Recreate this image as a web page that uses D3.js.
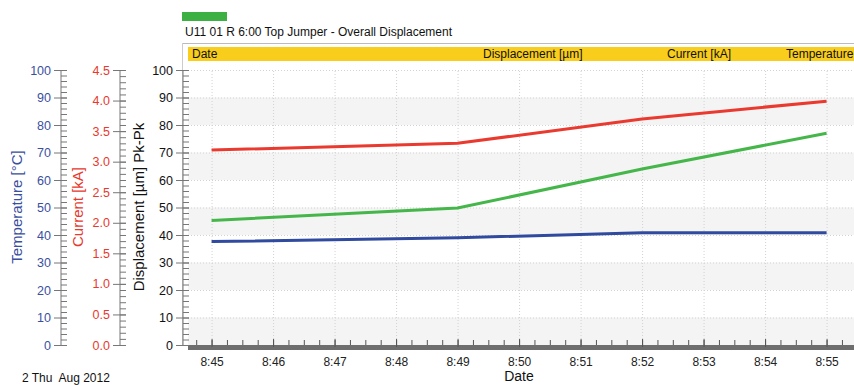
<!DOCTYPE html>
<html>
<head>
<meta charset="utf-8">
<script src="https://cdn.jsdelivr.net/npm/d3@7"></script>
<style>
  body { margin: 0; background: #fff; }
  svg { display: block; font-family: "Liberation Sans", Arial, sans-serif; }
</style>
</head>
<body>
<div id="chart"></div>
<script>
(function() {
  var width = 854, height = 385;

  // data
  var times = ["8:45", "8:49", "8:52", "8:55"];
  var displacement = [45.3, 49.8, 64.0, 77.0];   // µm Pk-Pk (green)
  var current = [3.19, 3.30, 3.70, 3.99];        // kA (red)
  var temperature = [37.6, 39.0, 40.8, 40.8];    // °C (blue)

  var headerLabels = ["Date", "Displacement [µm]", "Current [kA]", "Temperature"];
  var headerX = [192, 483, 667, 786];

  var parseTime = d3.timeParse("%H:%M");
  var dates = times.map(parseTime);

  var svg = d3.select("#chart")
    .append("svg")
    .attr("width", width)
    .attr("height", height);

  var plotLeft = 188, plotTop = 70, plotBottom = 345;

  var xPositionScale = d3.scaleTime()
    .domain([new Date(1900, 0, 1, 8, 44, 37), new Date(1900, 0, 1, 8, 55, 37)])
    .range([plotLeft, plotLeft + 11 * 61.5]);

  var dispScale = d3.scaleLinear().domain([0, 100]).range([plotBottom, plotTop]);
  var currScale = d3.scaleLinear().domain([0, 4.5]).range([plotBottom, plotTop]);
  var tempScale = d3.scaleLinear().domain([0, 100]).range([plotBottom, plotTop]);

  // legend swatch + title
  svg.append("rect")
    .attr("x", 182).attr("y", 12).attr("width", 45).attr("height", 9)
    .attr("fill", "#3cb043");
  svg.append("text")
    .attr("x", 185).attr("y", 36)
    .attr("font-size", 12).attr("fill", "#111")
    .text("U11 01 R 6:00 Top Jumper - Overall Displacement");

  // panel frame
  svg.append("line")
    .attr("x1", 182).attr("x2", width).attr("y1", 43.5).attr("y2", 43.5)
    .attr("stroke", "#bbb");
  svg.append("line")
    .attr("x1", 182.5).attr("x2", 182.5).attr("y1", 43).attr("y2", plotBottom)
    .attr("stroke", "#ccc");

  // yellow header bar
  svg.append("rect")
    .attr("x", plotLeft).attr("y", 47).attr("width", width - plotLeft).attr("height", 14)
    .attr("fill", "#f9cd1c");
  svg.selectAll(".hdr")
    .data(headerLabels)
    .enter().append("text")
    .attr("class", "hdr")
    .attr("x", function(d, i) { return headerX[i]; })
    .attr("y", 58)
    .attr("font-size", 12)
    .attr("fill", "#111")
    .text(function(d) { return d; });

  // alternating bands
  var bands = d3.range(0, 100, 20);
  svg.selectAll(".band")
    .data(bands)
    .enter().append("rect")
    .attr("class", "band")
    .attr("x", plotLeft)
    .attr("width", width - plotLeft)
    .attr("y", function(d) { return dispScale(d + 10); })
    .attr("height", function(d) { return dispScale(d) - dispScale(d + 10); })
    .attr("fill", "#f4f4f4");

  // grid
  var xGrid = d3.axisBottom(xPositionScale)
    .ticks(d3.timeMinute.every(1))
    .tickSize(-(plotBottom - plotTop))
    .tickFormat("");
  svg.append("g")
    .attr("class", "grid")
    .attr("transform", "translate(0," + plotBottom + ")")
    .call(xGrid);
  var yGrid = d3.axisLeft(dispScale)
    .tickValues(d3.range(10, 101, 10))
    .tickSize(-(width - plotLeft))
    .tickFormat("");
  svg.append("g")
    .attr("class", "grid")
    .attr("transform", "translate(" + plotLeft + ",0)")
    .call(yGrid);
  svg.selectAll(".grid .domain").remove();
  svg.selectAll(".grid line")
    .attr("stroke", "#d2d2d2")
    .attr("stroke-dasharray", "1,2");

  // lines
  var series = [
    { values: temperature, scale: tempScale, color: "#2f4a9e" },
    { values: displacement, scale: dispScale, color: "#45b649" },
    { values: current, scale: currScale, color: "#ea3a2f" }
  ];
  series.forEach(function(s) {
    var line = d3.line()
      .x(function(d, i) { return xPositionScale(dates[i]); })
      .y(function(d) { return s.scale(d); });
    svg.append("path")
      .datum(s.values)
      .attr("d", line)
      .attr("fill", "none")
      .attr("stroke", s.color)
      .attr("stroke-width", 3);
  });

  // x axis: thick bar + ticks
  svg.append("rect")
    .attr("x", plotLeft).attr("y", plotBottom).attr("width", width - plotLeft).attr("height", 5)
    .attr("fill", "#6e6e6e");
  var minor = d3.axisTop(xPositionScale)
    .ticks(d3.timeSecond.every(15))
    .tickSize(5)
    .tickFormat("");
  svg.append("g")
    .attr("class", "xminor")
    .attr("transform", "translate(0," + plotBottom + ")")
    .call(minor);
  var xAxis = d3.axisTop(xPositionScale)
    .ticks(d3.timeMinute.every(1))
    .tickSize(8)
    .tickFormat("");
  svg.append("g")
    .attr("class", "xmajor")
    .attr("transform", "translate(0," + (plotBottom + 2) + ")")
    .call(xAxis);
  svg.selectAll(".xminor .domain, .xmajor .domain").remove();
  svg.selectAll(".xminor line, .xmajor line").attr("stroke", "#555");

  var xLabels = d3.axisBottom(xPositionScale)
    .ticks(d3.timeMinute.every(1))
    .tickSize(0)
    .tickPadding(0)
    .tickFormat(d3.timeFormat("%-H:%M"));
  svg.append("g")
    .attr("class", "xlabels")
    .attr("transform", "translate(0,357)")
    .call(xLabels);
  svg.selectAll(".xlabels .domain").remove();
  svg.selectAll(".xlabels text")
    .attr("font-size", 12)
    .attr("font-family", "Liberation Sans, Arial, sans-serif")
    .attr("fill", "#222");

  svg.append("text")
    .attr("x", 519).attr("y", 381)
    .attr("text-anchor", "middle")
    .attr("font-size", 14).attr("fill", "#111")
    .text("Date");

  svg.append("text")
    .attr("x", 22).attr("y", 382)
    .attr("font-size", 12).attr("fill", "#111")
    .style("white-space", "pre")
    .text("2 Thu  Aug 2012");

  // left rulers
  function ruler(x, scale, step, minorStep, fmt, color) {
    var g = svg.append("g").attr("transform", "translate(" + x + ",0)");
    var lo = scale.domain()[0], hi = scale.domain()[1];
    g.append("g")
      .attr("class", "rminor")
      .call(d3.axisRight(scale)
        .tickValues(d3.range(lo, hi + minorStep / 2, minorStep))
        .tickSize(6)
        .tickFormat(""));
    g.append("g")
      .attr("class", "rmajor")
      .call(d3.axisLeft(scale)
        .tickValues(d3.range(lo, hi + step / 2, step))
        .tickSize(7)
        .tickPadding(3)
        .tickFormat(fmt));
    g.selectAll(".rmajor .tick line").attr("x2", -7).attr("x1", 6);
    g.selectAll(".domain").remove();
    g.append("line")
      .attr("x1", 0).attr("x2", 0)
      .attr("y1", scale.range()[1]).attr("y2", scale.range()[0])
      .attr("stroke", "#777");
    g.selectAll("line").attr("stroke", "#777");
    g.selectAll("text")
      .attr("font-size", 12.5)
      .attr("font-family", "Liberation Sans, Arial, sans-serif")
      .attr("fill", color);
  }
  ruler(61, tempScale, 10, 2, d3.format("d"), "#3b4fa0");
  ruler(120, currScale, 0.5, 0.1, d3.format(".1f"), "#e8392e");
  ruler(183, dispScale, 10, 2, d3.format("d"), "#111");

  // rotated axis titles
  var titles = [
    { text: "Temperature [°C]", x: 22, color: "#3b4fa0" },
    { text: "Current [kA]", x: 83, color: "#e8392e" },
    { text: "Displacement [µm] Pk-Pk", x: 144, color: "#111" }
  ];
  svg.selectAll(".ytitle")
    .data(titles)
    .enter().append("text")
    .attr("class", "ytitle")
    .attr("transform", function(d) { return "translate(" + d.x + ",207) rotate(-90)"; })
    .attr("text-anchor", "middle")
    .attr("font-size", 15)
    .attr("fill", function(d) { return d.color; })
    .text(function(d) { return d.text; });
})();
</script>
</body>
</html>
